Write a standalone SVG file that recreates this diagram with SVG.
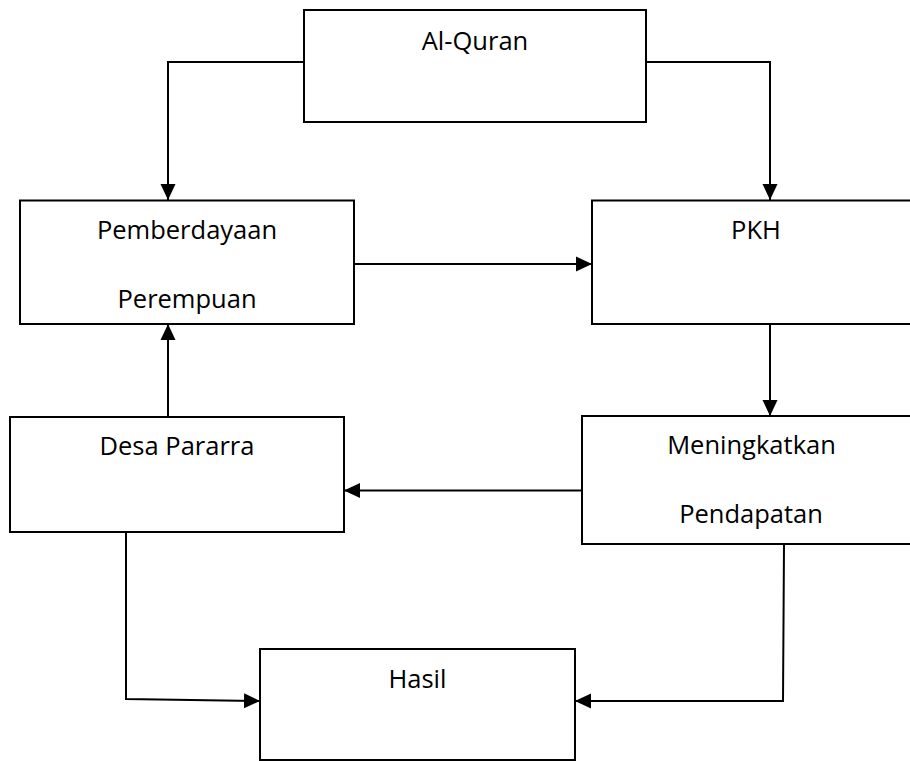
<svg xmlns="http://www.w3.org/2000/svg" width="910" height="761" viewBox="0 0 910 761">
<defs>
<style>
.box{fill:#fff;stroke:#000;stroke-width:2}
.lbl{font-family:"Open Sans","Liberation Sans",sans-serif;font-size:25.5px;fill:#000;text-anchor:middle}
.con{fill:none;stroke:#000;stroke-width:2}
</style>
<marker id="arr" markerUnits="userSpaceOnUse" markerWidth="18" markerHeight="18" viewBox="0 0 18 18" refX="16" refY="9" orient="auto">
<path d="M0,1.5 L16,9 L0,16.5 Z" fill="#000"/>
</marker>
</defs>
<rect width="910" height="761" fill="#fff"/>
<g id="alquran"><rect class="box" x="304" y="10" width="342" height="112"/><text class="lbl" x="475" y="50">Al-Quran</text></g>
<g id="pemberdayaan"><rect class="box" x="20" y="200.5" width="334" height="123.5"/><text class="lbl" x="187" y="239">Pemberdayaan</text><text class="lbl" x="187" y="308">Perempuan</text></g>
<g id="pkh"><rect class="box" x="592" y="200.5" width="330" height="123.5"/><text class="lbl" x="756" y="239">PKH</text></g>
<g id="desa"><rect class="box" x="10" y="417" width="334" height="115"/><text class="lbl" x="177" y="455">Desa Pararra</text></g>
<g id="meningkatkan"><rect class="box" x="582" y="416" width="340" height="128"/><text class="lbl" x="751.5" y="454">Meningkatkan</text><text class="lbl" x="751" y="522.5">Pendapatan</text></g>
<g id="hasil"><rect class="box" x="260" y="649" width="315" height="111"/><text class="lbl" x="417.5" y="688">Hasil</text></g>
<g id="connectors">
<path class="con" d="M304,62 H168 V200" marker-end="url(#arr)"/>
<path class="con" d="M646,62 H770 V200" marker-end="url(#arr)"/>
<path class="con" d="M354,264 H592" marker-end="url(#arr)"/>
<path class="con" d="M770,324 V416" marker-end="url(#arr)"/>
<path class="con" d="M582,490.5 H344" marker-end="url(#arr)"/>
<path class="con" d="M168,417 V324" marker-end="url(#arr)"/>
<path class="con" d="M126,532 V699 L260,701" marker-end="url(#arr)"/>
<path class="con" d="M784,544 L783,701 H575" marker-end="url(#arr)"/>
</g>
</svg>
